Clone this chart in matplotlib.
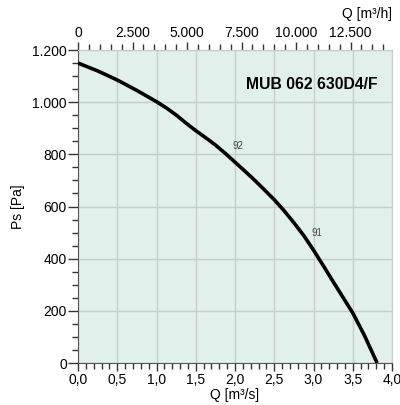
import numpy as np
import matplotlib
matplotlib.use("Agg")
import matplotlib.pyplot as plt
from matplotlib.ticker import MultipleLocator, FixedLocator, FuncFormatter

plt.rcParams['font.family'] = ['Liberation Sans', 'DejaVu Sans']

## Data
q_m3s = [0.0, 0.25, 0.5, 0.75, 1.0, 1.125, 1.25, 1.375, 1.5, 1.625, 1.75, 1.875, 2.0,
         2.125, 2.25, 2.375, 2.5, 2.625, 2.75, 2.875, 3.0, 3.125, 3.25, 3.375, 3.5, 3.65, 3.81]
ps_pa = [1150, 1120, 1085, 1045, 1002, 978, 951, 920, 891, 864, 836, 804, 770,
         736, 701, 664, 626, 584, 538, 489, 433, 373, 312, 252, 192, 105, 0]
eff_labels = ["92", "91"]
eff_q = [2.04, 3.05]
eff_ps = [832, 498]
model = "MUB 062 630D4/F"
top_ticks = [0, 2500, 5000, 7500, 10000, 12500]

BG = "#e2f0ec"
GRID = "#c8cccb"
DARK = "#333333"

fig = plt.figure(figsize=(4.0, 4.05), dpi=100)
ax = fig.add_axes([0.195, 0.1037, 0.785, 0.7728])
ax.set_facecolor(BG)

ax.plot(q_m3s, ps_pa, color="black", lw=2.6, solid_capstyle="butt", zorder=3)
for t, x, y in zip(eff_labels, eff_q, eff_ps):
    ax.text(x, y, t, fontsize=7, color="#444444", ha="center", va="center")
ax.text(3.82, 1066, model, fontsize=11.3, fontweight="bold", ha="right", va="center")

ax.set_xlim(0, 4.0)
ax.set_ylim(0, 1200)
ax.xaxis.set_major_locator(MultipleLocator(0.5))
ax.xaxis.set_minor_locator(MultipleLocator(0.1))
ax.yaxis.set_major_locator(MultipleLocator(200))
ax.yaxis.set_minor_locator(MultipleLocator(50))
ax.xaxis.set_major_formatter(FuncFormatter(lambda v, p: f"{v:.1f}".replace(".", ",")))
ax.yaxis.set_major_formatter(FuncFormatter(lambda v, p: f"{int(v):,}".replace(",", ".")))
ax.grid(True, which="major", color=GRID, lw=1.0)
ax.set_axisbelow(True)

ax.tick_params(which="major", length=7, width=1, color=DARK, labelsize=10, pad=1)
ax.tick_params(which="minor", length=4, width=1, color=DARK)
ax.tick_params(axis="x", which="major", length=6)

for s in ["left", "bottom"]:
    ax.spines[s].set_color("#555555")
ax.spines["top"].set_color(GRID)
ax.spines["right"].set_color(GRID)

ax.set_xlabel("Q [m³/s]", fontsize=10, labelpad=1)
ax.set_ylabel("Ps [Pa]", fontsize=10, labelpad=5)

## Top axis in m3/h
top = ax.secondary_xaxis("top", functions=(lambda x: x * 3600, lambda x: x / 3600))
top.xaxis.set_major_locator(FixedLocator(top_ticks))
top.xaxis.set_minor_locator(FixedLocator(np.arange(0, 14401, 500)))
top.xaxis.set_major_formatter(FuncFormatter(lambda v, p: f"{int(v):,}".replace(",", ".")))
top.tick_params(which="major", length=6, width=1, color=DARK, labelsize=10, pad=1)
top.tick_params(which="minor", length=4, width=1, color=DARK)
top.spines["top"].set_color(GRID)
fig.text(0.98, 0.965, "Q [m³/h]", fontsize=10, ha="right", va="center")

fig.savefig("out.png", dpi=100)
